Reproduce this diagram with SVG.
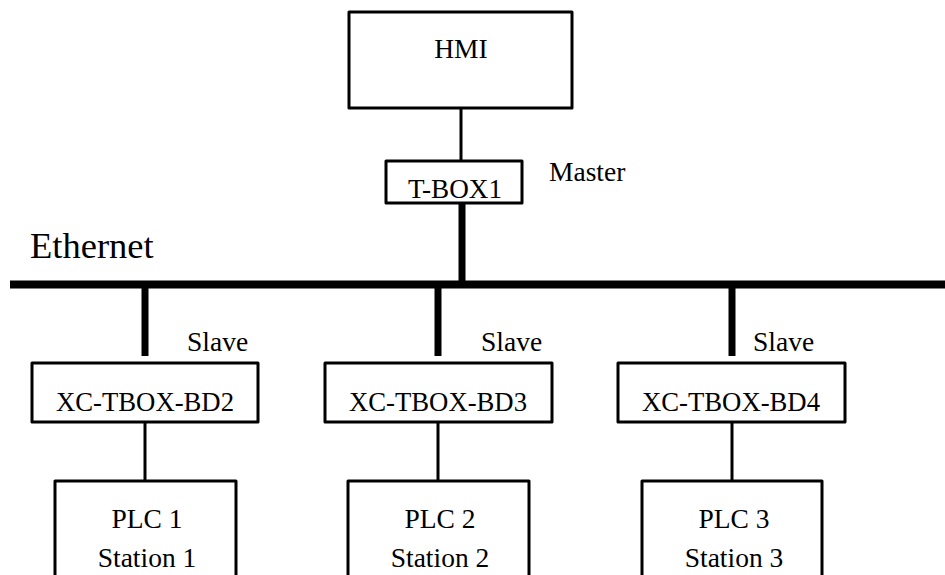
<svg xmlns="http://www.w3.org/2000/svg" width="945" height="575" viewBox="0 0 945 575">
<style>
.box{fill:#fff;stroke:#000;stroke-width:3;stroke-linejoin:round}
.t{font-family:"Liberation Serif","Times New Roman",serif;font-size:27.5px;fill:#000;text-anchor:middle}
.l{font-family:"Liberation Serif","Times New Roman",serif;font-size:27.5px;fill:#000}
.thin{stroke:#000;stroke-width:3;fill:none}
.thick{stroke:#000;stroke-width:7;fill:none}
</style>
<rect width="945" height="575" fill="#fff"/>
<g id="connectors">
<line class="thin" x1="461" y1="108" x2="461" y2="162"/>
<line class="thick" x1="462" y1="203" x2="462" y2="285"/>
<line x1="10" y1="284.5" x2="945" y2="284.5" stroke="#000" stroke-width="8"/>
<line class="thick" x1="145" y1="285" x2="145" y2="356"/>
<line class="thick" x1="438" y1="285" x2="438" y2="356"/>
<line class="thick" x1="732" y1="285" x2="732" y2="356"/>
<line class="thin" x1="145" y1="422" x2="145" y2="481"/>
<line class="thin" x1="438" y1="422" x2="438" y2="481"/>
<line class="thin" x1="732" y1="422" x2="732" y2="481"/>
</g>
<text class="l" x="30" y="258" style="font-size:36.5px">Ethernet</text>
<g id="hmi">
<rect class="box" x="349" y="12" width="223" height="96"/>
<text class="t" x="461" y="58">HMI</text>
</g>
<g id="tbox1">
<rect class="box" x="386" y="161" width="136" height="42"/>
<text class="t" x="455" y="198" textLength="94" lengthAdjust="spacingAndGlyphs">T-BOX1</text>
<text class="l" x="549" y="181">Master</text>
</g>
<g id="bd2">
<rect class="box" x="32" y="363" width="226" height="59"/>
<text class="t" x="145" y="411" textLength="178" lengthAdjust="spacingAndGlyphs">XC-TBOX-BD2</text>
<text class="l" x="187" y="351">Slave</text>
</g>
<g id="bd3">
<rect class="box" x="325" y="363" width="227" height="59"/>
<text class="t" x="438" y="411" textLength="178" lengthAdjust="spacingAndGlyphs">XC-TBOX-BD3</text>
<text class="l" x="481" y="351">Slave</text>
</g>
<g id="bd4">
<rect class="box" x="618" y="363" width="227" height="59"/>
<text class="t" x="731" y="411" textLength="178" lengthAdjust="spacingAndGlyphs">XC-TBOX-BD4</text>
<text class="l" x="753" y="351">Slave</text>
</g>
<g id="plc1">
<rect class="box" x="55" y="481" width="181" height="110"/>
<text class="t" x="147" y="528">PLC 1</text>
<text class="t" x="147" y="567">Station 1</text>
</g>
<g id="plc2">
<rect class="box" x="348" y="481" width="181" height="110"/>
<text class="t" x="440" y="528">PLC 2</text>
<text class="t" x="440" y="567">Station 2</text>
</g>
<g id="plc3">
<rect class="box" x="642" y="481" width="180" height="110"/>
<text class="t" x="734" y="528">PLC 3</text>
<text class="t" x="734" y="567">Station 3</text>
</g>
</svg>
